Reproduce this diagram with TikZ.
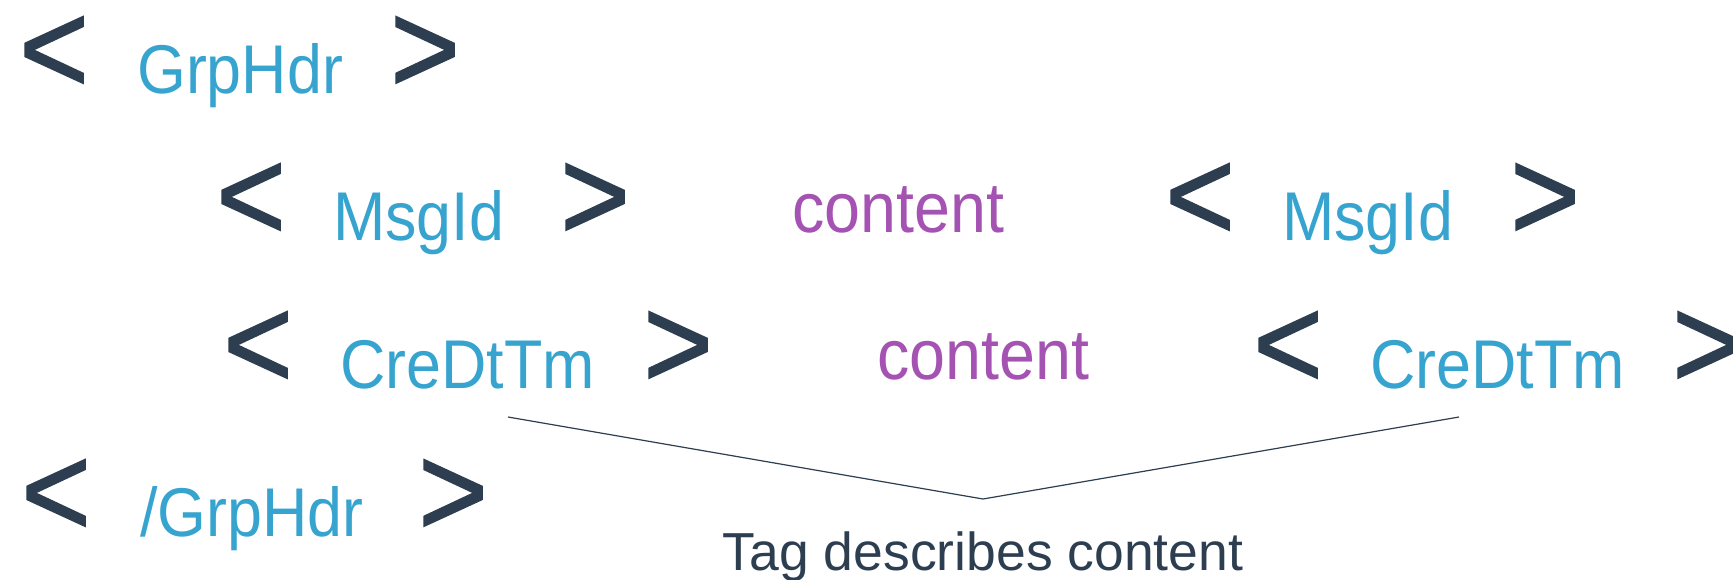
\documentclass[tikz,border=0pt]{standalone}
\usepackage{fontspec}
\setmainfont{Liberation Sans}
\newfontfamily\tagfont[FakeStretch=0.91]{Liberation Sans}
\newfontfamily\brfont[FakeStretch=0.91,FakeBold=1.2]{Liberation Sans}
\definecolor{brdark}{HTML}{2C3E50}
\definecolor{tagblue}{HTML}{36A4CF}
\definecolor{cntpurple}{HTML}{A553B3}
\tikzset{
  br/.style={anchor=base, inner sep=0pt, text=brdark, font=\brfont\fontsize{131}{140}\selectfont},
  tag/.style={anchor=base west, inner sep=0pt, text=tagblue, font=\tagfont\fontsize{69}{80}\selectfont},
  cnt/.style={anchor=base west, inner sep=0pt, text=cntpurple, font=\tagfont\fontsize{71}{80}\selectfont}
}
\begin{document}
\begin{tikzpicture}[x=1pt, y=-1pt]
        \useasboundingbox (0,0) rectangle (1733,579);

        % Opening group tag
        \node[br] (lt1) at (54,93) {<};
        \node[tag] (grp) at (137,93) {GrpHdr};
        \node[br] (gt1) at (425,93) {>};

        % MsgId element
        \node[br] (lt2) at (251,240) {<};
        \node[tag] (msg) at (333,240) {MsgId};
        \node[br] (gt2) at (595,240) {>};
        \node[cnt] (cnt2) at (792,232) {content};
        \node[br] (lt2e) at (1200,240) {<};
        \node[tag] (msge) at (1282,240) {MsgId};
        \node[br] (gt2e) at (1545,240) {>};

        % CreDtTm element
        \node[br] (lt3) at (258,388) {<};
        \node[tag] (cre) at (340,388) {CreDtTm};
        \node[br] (gt3) at (678,388) {>};
        \node[cnt] (cnt3) at (877,379) {content};
        \node[br] (lt3e) at (1288,388) {<};
        \node[tag] (cree) at (1370,388) {CreDtTm};
        \node[br] (gt3e) at (1707,388) {>};

        % Closing group tag
        \node[br] (lt4) at (56,536) {<};
        \node[tag] (grpe) at (140,536) {/GrpHdr};
        \node[br] (gt4) at (453,536) {>};

        % Bracket line and note
        \coordinate (bl) at (508,417);
        \coordinate (bv) at (983,499);
        \coordinate (br) at (1459,417);
        \draw[brdark, line width=1.2pt] (bl) -- (bv) -- (br);
        \node[anchor=base, inner sep=0pt, text=brdark, font=\fontsize{53.5}{60}\selectfont] (note) at (983,570) {Tag describes content};
\end{tikzpicture}
\end{document}
